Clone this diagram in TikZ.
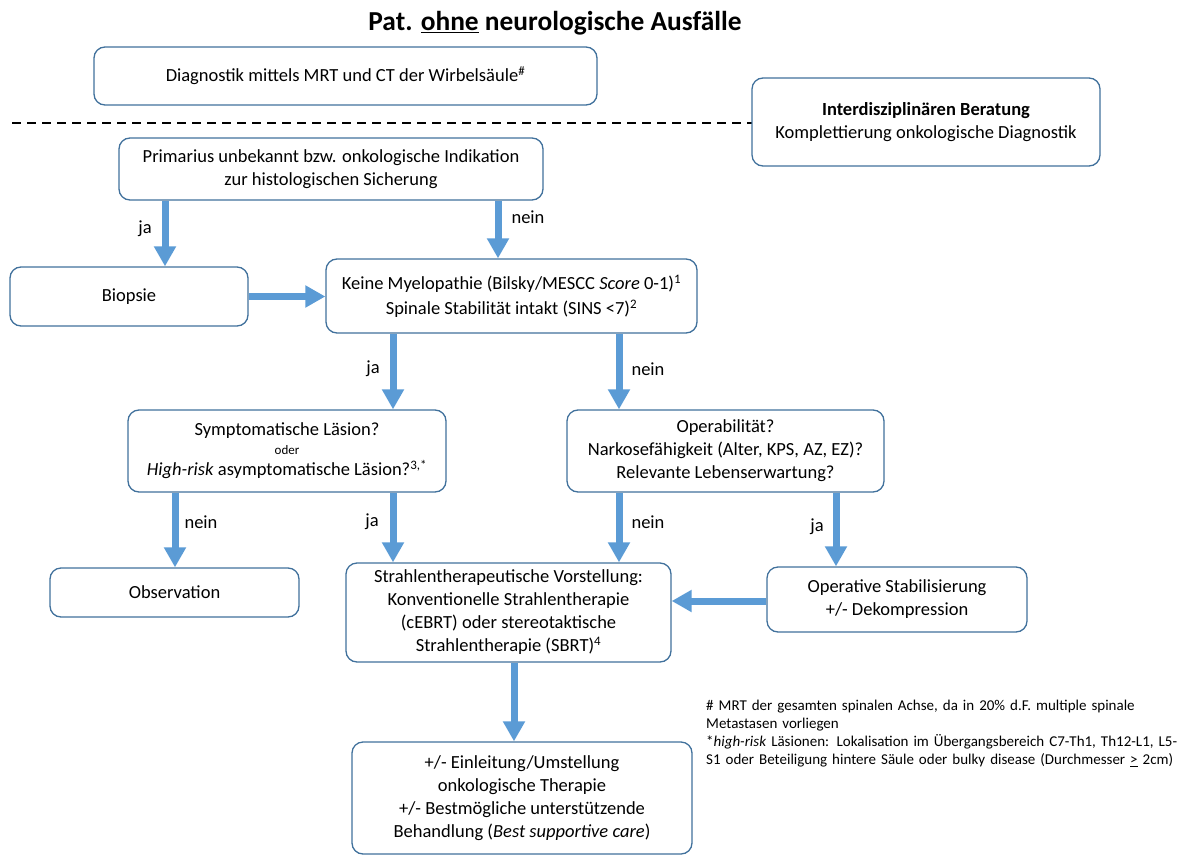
\documentclass[tikz,border=0pt]{standalone}
\usepackage{fontspec}
\setmainfont{Carlito}
\usepackage{tikz}
\usetikzlibrary{calc}
\usetikzlibrary{arrows.meta}
\definecolor{arrowblue}{RGB}{91,155,213}
\definecolor{boxline}{RGB}{65,113,156}
\tikzset{>=latex}
\tikzset{
  box/.style={draw=boxline,line width=1.3pt,rounded corners=11pt,fill=white,
    align=center,inner sep=0pt,anchor=center,
    font=\fontsize{18.5}{23}\selectfont},
  flow/.style={draw=arrowblue,line width=7pt,
    -{Triangle[width=21pt,length=20pt]}},
  lbl/.style={font=\fontsize{18.5}{22}\selectfont,anchor=center}
}

\begin{document}
\begin{tikzpicture}[x=1pt,y=-1pt]
      \useasboundingbox (0,0) rectangle (1190,856);

      \node (title) [anchor=center,font=\fontsize{27.4}{32}\selectfont\bfseries]
      at (555,23) {Pat. \underline{ohne} neurologische Ausfälle};

      \node (diag) [box,minimum width=503pt,minimum height=58pt] at (345.5,76)
      {Diagnostik mittels MRT und CT der Wirbelsäule\textsuperscript{\#}};

      \coordinate (d0) at (12,123);
      \coordinate (d1) at (752,123);
      \draw [line width=1.8pt, dash pattern=on 9pt off 6pt] (d0) -- (d1);

      \node (inter) [box,minimum width=348pt,minimum height=88pt] at (926,122)
      {\textbf{Interdisziplinären Beratung}\\Komplettierung onkologische Diagnostik};

      \node (prim) [box,minimum width=424pt,minimum height=62pt] at (331,169)
      {Primarius unbekannt bzw. onkologische Indikation\\zur histologischen Sicherung};

      \node (biop) [box,minimum width=238pt,minimum height=59pt] at (129,296.5)
      {Biopsie};

      \node (keine) [box,minimum width=371pt,minimum height=74pt] at (511.5,296)
      {Keine Myelopathie (Bilsky/MESCC \textit{Score} 0-1)\textsuperscript{1}\\[2pt]
       Spinale Stabilität intakt (SINS <7)\textsuperscript{2}};

      \node (sympt) [box,minimum width=318pt,minimum height=82pt] at (287,451)
      {Symptomatische Läsion?\\[-4pt]{\fontsize{13}{15}\selectfont oder}\\[-2pt]
       \textit{High-risk} asymptomatische Läsion?\textsuperscript{3,*}};

      \node (oper) [box,minimum width=317pt,minimum height=82pt] at (725.5,451)
      {Operabilität?\\Narkosefähigkeit (Alter, KPS, AZ, EZ)?\\Relevante Lebenserwartung?};

      \node (obs) [box,minimum width=249pt,minimum height=49pt] at (174.5,592.5)
      {Observation};

      \node (strahl) [box,minimum width=325pt,minimum height=99pt] at (508.5,612.5)
      {Strahlentherapeutische Vorstellung:\\Konventionelle Strahlentherapie\\
       (cEBRT) oder stereotaktische\\Strahlentherapie (SBRT)\textsuperscript{4}};

      \node (opstab) [box,minimum width=260pt,minimum height=65pt] at (897,599.5)
      {Operative Stabilisierung\\+/- Dekompression};

      \node (einl) [box,minimum width=340pt,minimum height=112pt] at (522,798)
      {+/- Einleitung/Umstellung\\onkologische Therapie\\
       +/- Bestmögliche unterstützende\\Behandlung (\textit{Best supportive care})};

      \node (fn) [anchor=north west,align=left,inner sep=0pt,text width=484pt,
      font=\fontsize{15}{18}\selectfont] at (706,700)
      {\# MRT der gesamten spinalen Achse, da in 20\% d.F. multiple spinale\\
       Metastasen vorliegen\\
       {}*\textit{high-risk} Läsionen: Lokalisation im Übergangsbereich C7-Th1, Th12-L1, L5-\\
       S1 oder Beteiligung hintere Säule oder bulky disease (Durchmesser \underline{>} 2cm)};

      \coordinate (xa) at (165,0);
      \coordinate (xb) at (498,0);
      \coordinate (xc) at (393,0);
      \coordinate (xd) at (619,0);
      \coordinate (xe) at (175,0);
      \coordinate (xf) at (836,0);
      \coordinate (xg) at (514,0);

      \draw [flow] (prim.south -| xa) -- (biop.north -| xa);
      \draw [flow] (prim.south -| xb) -- (keine.north -| xb);
      \draw [flow] (biop.east) -- (keine.west |- biop.east);
      \draw [flow] (keine.south -| xc) -- (sympt.north -| xc);
      \draw [flow] (keine.south -| xd) -- (oper.north -| xd);
      \draw [flow] (sympt.south -| xe) -- (obs.north -| xe);
      \draw [flow] (sympt.south -| xc) -- (strahl.north -| xc);
      \draw [flow] (oper.south -| xd) -- (strahl.north -| xd);
      \draw [flow] (oper.south -| xf) -- (opstab.north -| xf);
      \draw [flow] (opstab.west |- 0,601) -- (strahl.east |- 0,601);
      \draw [flow] (strahl.south -| xg) -- (einl.north -| xg);

      \node (l1) [lbl] at (145,229) {ja};
      \node (l2) [lbl] at (528,217) {nein};
      \node (l3) [lbl] at (373,369) {ja};
      \node (l4) [lbl] at (648,369) {nein};
      \node (l5) [lbl] at (201,522) {nein};
      \node (l6) [lbl] at (372,522) {ja};
      \node (l7) [lbl] at (648,522) {nein};
      \node (l8) [lbl] at (817,527) {ja};
  \end{tikzpicture}
\end{document}
